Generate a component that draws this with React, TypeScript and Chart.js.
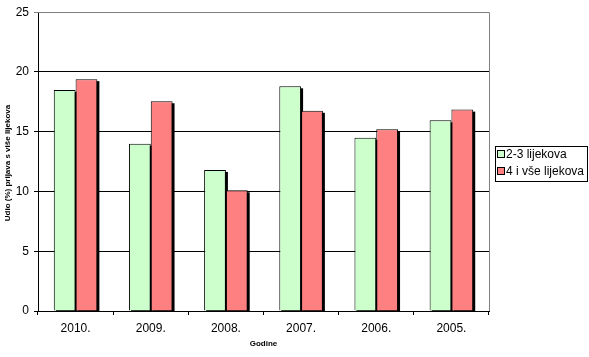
import React, { useEffect, useRef } from "react";
import { Chart, registerables } from "chart.js";

Chart.register(...registerables);

const categories = ["2010.", "2009.", "2008.", "2007.", "2006.", "2005."];
const series1Label = "2-3 lijekova";
const series2Label = "4 i vše lijekova";
const series1 = [18.5, 14.0, 11.8, 18.8, 14.5, 15.95];
const series2 = [19.4, 17.55, 10.1, 16.75, 15.2, 16.85];
const yTitle = "Udio (%) prijava s više lijekova";
const xTitle = "Godine";

const GREEN = "#CCFFCC";
const RED = "#FF8080";
const FONT = "Arial, 'Liberation Sans', sans-serif";

const decorPlugin = {
  id: "decor",
  beforeDatasetsDraw(chart: any) {
    const ctx = chart.ctx;
    const area = chart.chartArea;
    ctx.save();
    ctx.beginPath();
    ctx.rect(area.left, area.top, area.right - area.left, area.bottom - area.top);
    ctx.clip();
    ctx.fillStyle = "#000";
    chart.data.datasets.forEach((_d: any, i: number) => {
      const meta = chart.getDatasetMeta(i);
      meta.data.forEach((bar: any) => {
        const w = bar.width;
        const left = bar.x - w / 2;
        const top = Math.min(bar.y, bar.base);
        const h = Math.abs(bar.base - bar.y);
        ctx.fillRect(left + 2, top + 2, w, h);
      });
    });
    ctx.restore();
  },
  afterDraw(chart: any) {
    const ctx = chart.ctx;
    const area = chart.chartArea;
    ctx.save();
    // top and right border gray
    ctx.strokeStyle = "#808080";
    ctx.lineWidth = 1;
    ctx.beginPath();
    ctx.moveTo(area.left, Math.round(area.top) + 0.5);
    ctx.lineTo(Math.round(area.right) + 0.5, Math.round(area.top) + 0.5);
    ctx.lineTo(Math.round(area.right) + 0.5, area.bottom);
    ctx.stroke();

    // axis titles
    ctx.fillStyle = "#000";
    ctx.font = "bold 8px " + FONT;
    ctx.textAlign = "center";
    ctx.textBaseline = "middle";
    ctx.fillText(xTitle, (area.left + area.right) / 2, 344);
    ctx.save();
    ctx.translate(8, 163);
    ctx.rotate(-Math.PI / 2);
    ctx.fillText(yTitle, 0, 0);
    ctx.restore();

    // legend
    const bx = 495.5, by = 146.5, bw = 92, bh = 35;
    ctx.fillStyle = "#fff";
    ctx.fillRect(bx, by, bw, bh);
    ctx.strokeStyle = "#000";
    ctx.strokeRect(bx, by, bw, bh);
    const items = [
      { label: series1Label, color: GREEN, y: 154 },
      { label: series2Label, color: RED, y: 171 },
    ];
    ctx.font = "12px " + FONT;
    ctx.textAlign = "left";
    ctx.textBaseline = "middle";
    items.forEach((it) => {
      ctx.fillStyle = it.color;
      ctx.fillRect(497.5, it.y - 3.5, 7, 7);
      ctx.strokeStyle = "#000";
      ctx.strokeRect(497.5, it.y - 3.5, 7, 7);
      ctx.fillStyle = "#000";
      ctx.fillText(it.label, 506, it.y + 0.5);
    });
    ctx.restore();
  },
};

export default function App() {
  const ref = useRef<HTMLCanvasElement>(null);
  useEffect(() => {
    document.body.style.margin = "0";
    const chart = new Chart(ref.current as HTMLCanvasElement, {
      type: "bar",
      data: {
        labels: categories,
        datasets: [
          {
            label: series1Label,
            data: series1,
            backgroundColor: GREEN,
            borderColor: "#000",
            borderWidth: 1,
            barPercentage: 1,
            categoryPercentage: 0.58,
          },
          {
            label: series2Label,
            data: series2,
            backgroundColor: RED,
            borderColor: "#000",
            borderWidth: 1,
            barPercentage: 1,
            categoryPercentage: 0.58,
          },
        ],
      },
      options: {
        animation: false,
        responsive: false,
        maintainAspectRatio: false,
        layout: { padding: { left: 0, right: 100, top: 12, bottom: 0 } },
        plugins: { legend: { display: false }, tooltip: { enabled: false } },
        scales: {
          x: {
            grid: {
              offset: true,
              drawOnChartArea: false,
              drawTicks: true,
              tickLength: 4,
              color: "#000",
            },
            border: { color: "#000", width: 1 },
            ticks: { color: "#000", font: { family: FONT, size: 12 }, padding: 6 },
            afterFit: (s: any) => {
              s.height = 46;
            },
          },
          y: {
            min: 0,
            max: 25,
            grid: {
              color: (c: any) => (c.tick && c.tick.value === 25 ? "#808080" : "#000"),
              tickLength: 4,
            },
            border: { color: "#000", width: 1 },
            ticks: { stepSize: 5, color: "#000", font: { family: FONT, size: 12 }, padding: 5 },
            afterFit: (s: any) => {
              s.width = 38;
            },
          },
        },
      },
      plugins: [decorPlugin],
    });
    return () => chart.destroy();
  }, []);
  return (
    <div style={{ width: 589, height: 357 }}>
      <canvas ref={ref} width={589} height={357} />
    </div>
  );
}
